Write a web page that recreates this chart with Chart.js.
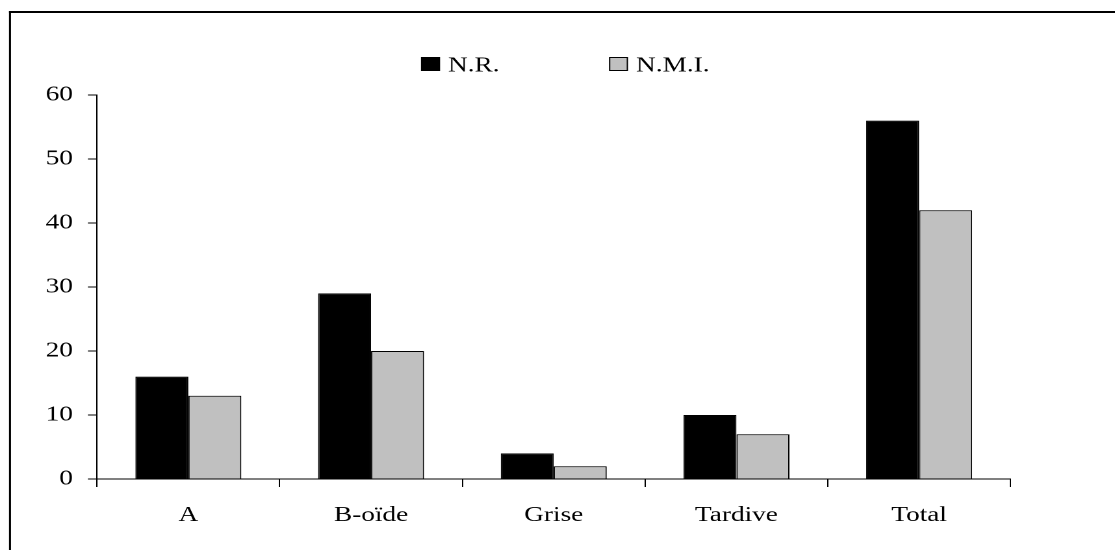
<!DOCTYPE html>
<html>
<head>
<meta charset="utf-8">
<script src="https://cdn.jsdelivr.net/npm/chart.js@4.4.0/dist/chart.umd.min.js"></script>
<style>
  html, body { margin: 0; padding: 0; background: #fff; overflow: hidden; }
  #chart { display: block; }
</style>
</head>
<body>
<canvas id="chart" width="858" height="550" style="width:1115px;height:550px"></canvas>
<script>
const categories = ['A', 'B-oïde', 'Grise', 'Tardive', 'Total'];
const seriesNames = ['N.R.', 'N.M.I.'];
const nrValues = [16, 29, 4, 10, 56];
const nmiValues = [13, 20, 2, 7, 42];
const yTicks = [0, 10, 20, 30, 40, 50, 60];

// the original picture is stretched sideways, so the chart is drawn
// on a narrower canvas and widened by css
const W = 858, H = 550;
const SX = 1115 / W;
const keyX = [421, 609];

const frameAndKey = {
    id: 'frameAndKey',
    afterDraw(chart) {
        const ctx = chart.ctx;
        ctx.save();
        ctx.fillStyle = '#000';
        ctx.fillRect(9 / SX, 11, W, 2);
        ctx.fillRect(9 / SX, 11, 2 / SX, H);

        ctx.font = '21px "Liberation Serif", "Times New Roman", serif';
        ctx.textBaseline = 'alphabetic';
        ctx.textAlign = 'left';
        chart.data.datasets.forEach((ds, i) => {
            const x = keyX[i] / SX;
            const bw = 19 / SX;
            ctx.fillStyle = ds.backgroundColor;
            ctx.fillRect(x, 57, bw, 14);
            ctx.strokeStyle = '#000';
            ctx.lineWidth = 1;
            ctx.strokeRect(x + 0.5, 57.5, bw - 1, 13);
            ctx.fillStyle = '#000';
            ctx.fillText(ds.label, (keyX[i] + 27) / SX, 71.5);
        });
        ctx.restore();
    }
};

Chart.defaults.font.family = '"Liberation Serif", "Times New Roman", serif';
Chart.defaults.font.size = 21;
Chart.defaults.color = '#000';

new Chart(document.getElementById('chart'), {
    type: 'bar',
    data: {
        labels: categories,
        datasets: [
            {
                label: seriesNames[0],
                data: nrValues,
                backgroundColor: '#000000',
                borderColor: '#000',
                borderWidth: 1
            },
            {
                label: seriesNames[1],
                data: nmiValues,
                backgroundColor: '#c0c0c0',
                borderColor: '#000',
                borderWidth: 1
            }
        ]
    },
    options: {
        responsive: false,
        devicePixelRatio: 2,
        animation: false,
        layout: {
            padding: { top: 95, right: W - 1010.5 / SX, bottom: 0, left: 0 }
        },
        datasets: {
            bar: { categoryPercentage: 0.58, barPercentage: 1.0 }
        },
        plugins: {
            legend: { display: false },
            tooltip: { enabled: false }
        },
        scales: {
            x: {
                grid: {
                    display: true,
                    drawOnChartArea: false,
                    drawTicks: true,
                    tickLength: 8,
                    color: '#000',
                    offset: true
                },
                border: { display: true, color: '#000', width: 1 },
                ticks: { padding: 16, maxRotation: 0, autoSkip: false },
                afterFit(scale) { scale.height = H - 479; }
            },
            y: {
                min: yTicks[0],
                max: yTicks[yTicks.length - 1],
                grid: {
                    drawOnChartArea: false,
                    drawTicks: true,
                    tickLength: 7,
                    color: '#000'
                },
                border: { display: true, color: '#000', width: 1 },
                ticks: { padding: 11.5 },
                afterBuildTicks(scale) {
                    scale.ticks = yTicks.map(v => ({ value: v }));
                },
                afterFit(scale) { scale.width = 97 / SX; }
            }
        }
    },
    plugins: [frameAndKey]
});
</script>
</body>
</html>
